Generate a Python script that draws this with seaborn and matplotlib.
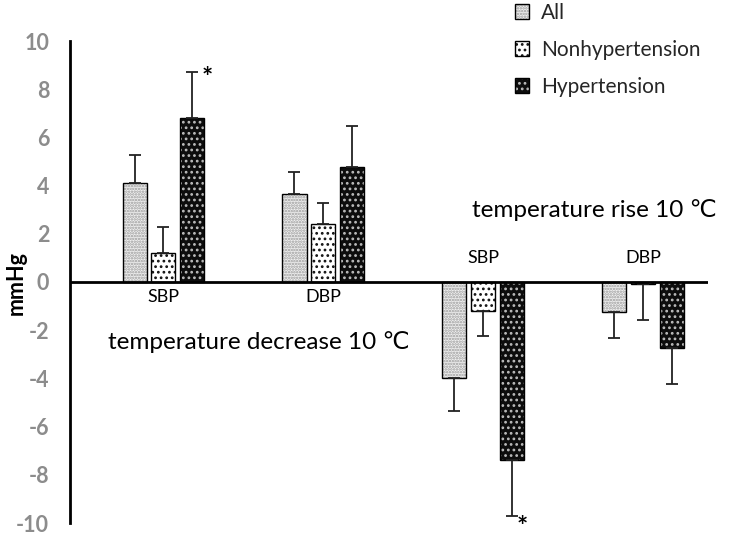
import matplotlib
matplotlib.use("Agg")
import matplotlib.pyplot as plt
import seaborn as sns
import pandas as pd
import numpy as np
from matplotlib.colors import to_rgba

# ---- data ----
groups = ["SBP (decrease)", "DBP (decrease)", "SBP (rise)", "DBP (rise)"]
group_labels = ["SBP", "DBP", "SBP", "DBP"]
series = ["All", "Nonhypertension", "Hypertension"]
all_vals = [4.10, 3.64, -4.00, -1.25]
all_err = [1.17, 0.94, 1.35, 1.08]
non_vals = [1.19, 2.39, -1.20, -0.10]
non_err = [1.11, 0.88, 1.06, 1.47]
hyp_vals = [6.82, 4.78, -7.40, -2.72]
hyp_err = [1.88, 1.71, 2.30, 1.51]
star_bars = [0, 2]  # group indices of Hypertension bars marked with *
y_ticks = [-10, -8, -6, -4, -2, 0, 2, 4, 6, 8, 10]

vals = [all_vals, non_vals, hyp_vals]
errs = [all_err, non_err, hyp_err]
df = pd.DataFrame({
    "group": np.repeat([groups], 3, axis=0).ravel(),
    "series": np.repeat(series, len(groups)),
    "value": np.concatenate(vals),
})

sns.set_theme(style="white")
plt.rcParams["font.family"] = ["Lato", "DejaVu Sans"]
plt.rcParams["hatch.linewidth"] = 1.2

W, H = 735, 538
fig = plt.figure(figsize=(W / 100, H / 100), dpi=100)
ax = fig.add_axes([70 / W, (H - 523) / H, (708 - 70) / W, (523 - 41) / H])

sns.barplot(data=df, x="group", y="value", hue="series", order=groups,
            hue_order=series, width=0.54, gap=0.16, errorbar=None,
            palette=["#e6e6e6", "white", "#111111"], edgecolor="black",
            linewidth=1.0, ax=ax, legend=False)

styles = [
    dict(fc="#f0f0f0", hatch="......", hc="#9a9a9a"),
    dict(fc="white", hatch="...", hc="#111111"),
    dict(fc="#0d0d0d", hatch="...", hc="#bdbdbd"),
]
for cont, st in zip(ax.containers, styles):
    for bar in cont:
        bar.set_facecolor(st["fc"])
        bar.set_edgecolor("black")
        bar.set_linewidth(1.0)
        bar.set_hatch(st["hatch"])
        bar._hatch_color = to_rgba(st["hc"])

# one-sided error bars
for cont, err in zip(ax.containers, errs):
    xs, hs, lo, up = [], [], [], []
    for bar, e in zip(cont, err):
        h = bar.get_height()
        xs.append(bar.get_x() + bar.get_width() / 2)
        hs.append(h)
        lo.append(e if h < 0 else 0)
        up.append(e if h >= 0 else 0)
    ax.errorbar(xs, hs, yerr=[lo, up], fmt="none", ecolor="#222222",
                elinewidth=1.3, capsize=4, capthick=1.3, zorder=1)

# stars
hyp_cont = ax.containers[2]
for gi in star_bars:
    bar = hyp_cont[gi]
    x = bar.get_x() + bar.get_width() / 2
    h = bar.get_height()
    e = hyp_err[gi]
    if h >= 0:
        ax.text(x + 0.095, h + e - 0.25, "*", fontsize=19, fontweight="bold",
                ha="center", va="center", color="black")
    else:
        ax.text(x + 0.065, h - e - 0.45, "*", fontsize=19, fontweight="bold",
                ha="center", va="center", color="black", clip_on=False)

ax.axhline(0, color="black", lw=2, zorder=3)
ax.set_ylim(-10, 10)
ax.set_xlim(-0.584, 3.406)
ax.set_yticks(y_ticks)
ax.set_yticklabels([str(t) for t in y_ticks], color="#8c8c8c",
                   fontweight="bold", fontsize=15.5)
ax.tick_params(axis="y", length=0, pad=15)
ax.set_xticks([])
ax.set_xlabel("")
ax.set_ylabel("")
for s in ["top", "right", "bottom"]:
    ax.spines[s].set_visible(False)
ax.spines["left"].set_color("black")
ax.spines["left"].set_linewidth(2)

# group labels
for i, lab in enumerate(group_labels):
    y = -0.62 if i < 2 else 1.0
    ax.text(i, y, lab, ha="center", va="center", fontsize=13, color="black")

fig.text(108 / W, 1 - 342 / H, "temperature decrease 10 ℃", fontsize=17.5,
         ha="left", va="center", color="black")
fig.text(472 / W, 1 - 210 / H, "temperature rise 10 ℃", fontsize=17.5,
         ha="left", va="center", color="black")
fig.text(16 / W, 1 - 283 / H, "mmHg", rotation=90, fontsize=15.5,
         fontweight="bold", ha="center", va="center", color="black")

handles = [ax.containers[i][0] for i in range(3)]
fig.legend(handles, series, loc="upper left", bbox_to_anchor=(496 / W, 1.03),
           frameon=False, fontsize=15, handlelength=0.7, handleheight=0.7,
           handletextpad=0.55, labelspacing=0.82)

fig.savefig("out.png", dpi=100)
